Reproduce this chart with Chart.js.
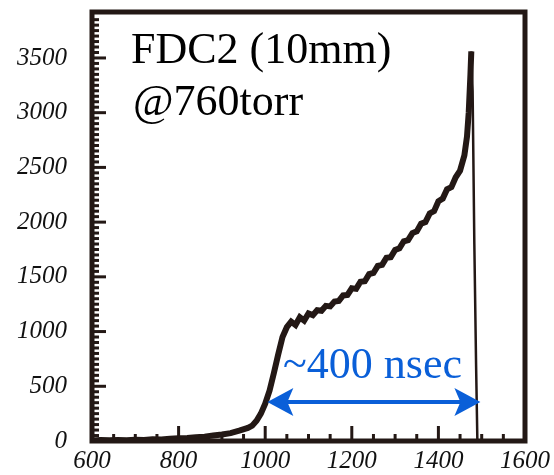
<!DOCTYPE html>
<html>
<head>
    <title>FDC2 signal</title>
    <script src="https://cdn.jsdelivr.net/npm/chart.js"></script>
    <style>
        body { margin: 0; background: #fff; }
        #wrap { width: 554px; height: 475px; }
    </style>
</head>
<body>
    <div id="wrap">
        <canvas id="myChart" width="554" height="475"></canvas>
    </div>

    <script>
        // drift time (x) and counts (y)
        const timeNs = [600, 620, 640, 660, 680, 700, 720, 740, 760, 780,
            800, 820, 840, 860, 880, 900, 920, 940, 960, 970, 980, 990,
            1000, 1010, 1020, 1030, 1040, 1050, 1060, 1070, 1080, 1090,
            1100, 1110, 1120, 1130, 1140, 1150, 1160, 1170, 1180, 1190,
            1200, 1210, 1220, 1230, 1240, 1250, 1260, 1270, 1280, 1290,
            1300, 1310, 1320, 1330, 1340, 1350, 1360, 1370, 1380, 1390,
            1400, 1410, 1420, 1430, 1440, 1450, 1460, 1466, 1470, 1474,
            1476, 1479, 1483, 1487, 1490, 1500, 1550, 1600];
        const counts = [5, 8, 6, 10, 8, 12, 10, 15, 14, 20,
            25, 28, 35, 40, 50, 60, 72, 95, 120, 140, 185, 250,
            340, 460, 620, 790, 950, 1040, 1090, 1060, 1130, 1100,
            1165, 1150, 1195, 1190, 1235, 1230, 1275, 1280, 1330, 1335,
            1395, 1390, 1455, 1460, 1525, 1535, 1600, 1610, 1675, 1680,
            1745, 1760, 1825, 1835, 1900, 1915, 1985, 2000, 2080, 2100,
            2190, 2215, 2300, 2320, 2410, 2470, 2610, 2780, 3000, 3350,
            3560, 3200, 1800, 700, 0, 0, 0, 0];

        const xTicks = [600, 800, 1000, 1200, 1400, 1600];
        const yTicks = [0, 500, 1000, 1500, 2000, 2500, 3000, 3500];

        const titleLines = ['FDC2 (10mm)', '@760torr'];
        const spanLabel = '~400 nsec';
        const spanFrom = 1005, spanTo = 1497, spanAt = 356;

        const ink = '#231815';
        const blue = '#0a5fd8';
        const serif = '"Liberation Serif", "Times New Roman", serif';

        // frame, inward ticks, title and the blue arrow
        const decor = {
            id: 'decor',
            afterDatasetsDraw(chart) {
                const { ctx, chartArea: a, scales: { x, y } } = chart;
                ctx.save();
                ctx.strokeStyle = ink;
                ctx.lineWidth = 3;
                for (let v = 650; v < 1600; v += 50) {
                    const px = x.getPixelForValue(v);
                    const len = v % 200 === 0 ? 15 : 7;
                    ctx.beginPath();
                    ctx.moveTo(px, a.bottom);
                    ctx.lineTo(px, a.bottom - len);
                    ctx.stroke();
                }
                for (let v = 50; v < 3900; v += 50) {
                    const py = y.getPixelForValue(v);
                    const len = v % 500 === 0 ? 14 : 7;
                    ctx.beginPath();
                    ctx.moveTo(a.left, py);
                    ctx.lineTo(a.left + len, py);
                    ctx.stroke();
                }
                ctx.lineWidth = 5;
                ctx.strokeRect(a.left, a.top, a.right - a.left, a.bottom - a.top);

                ctx.fillStyle = '#000';
                ctx.font = '44px ' + serif;
                ctx.textBaseline = 'alphabetic';
                ctx.fillText(titleLines[0], 131, 63);
                ctx.fillText(titleLines[1], 133, 115);

                // span arrow
                const x0 = x.getPixelForValue(spanFrom);
                const x1 = x.getPixelForValue(spanTo);
                const yy = y.getPixelForValue(spanAt);
                ctx.strokeStyle = blue;
                ctx.fillStyle = blue;
                ctx.lineWidth = 4;
                ctx.beginPath();
                ctx.moveTo(x0 + 10, yy);
                ctx.lineTo(x1 - 10, yy);
                ctx.stroke();
                ctx.beginPath();
                ctx.moveTo(x0, yy);
                ctx.lineTo(x0 + 26, yy - 14);
                ctx.lineTo(x0 + 20, yy);
                ctx.lineTo(x0 + 26, yy + 14);
                ctx.closePath();
                ctx.fill();
                ctx.beginPath();
                ctx.moveTo(x1, yy);
                ctx.lineTo(x1 - 26, yy - 14);
                ctx.lineTo(x1 - 20, yy);
                ctx.lineTo(x1 - 26, yy + 14);
                ctx.closePath();
                ctx.fill();
                ctx.font = '44px ' + serif;
                ctx.fillText(spanLabel, x.getPixelForValue(1041), y.getPixelForValue(576));
                ctx.restore();
            }
        };

        document.addEventListener('DOMContentLoaded', function() {
            const ctx = document.getElementById('myChart').getContext('2d');
            window.myChart = new Chart(ctx, {
                type: 'line',
                data: {
                    labels: timeNs,
                    datasets: [{
                        data: timeNs.map((t, i) => ({ x: t, y: counts[i] })),
                        borderColor: ink,
                        borderWidth: 6,
                        borderJoinStyle: 'miter',
                        pointRadius: 0,
                        tension: 0,
                        fill: false,
                        segment: {
                            borderWidth: c => c.p0.parsed.x >= 1476 ? 2.5 : 6
                        }
                    }]
                },
                options: {
                    responsive: false,
                    animation: false,
                    events: [],
                    layout: { padding: { top: 12, right: 29, left: 0, bottom: 0 } },
                    plugins: {
                        legend: { display: false },
                        tooltip: { enabled: false }
                    },
                    scales: {
                        x: {
                            type: 'linear',
                            min: 600,
                            max: 1600,
                            afterFit: s => {
                                s.height = 34;
                                s.paddingLeft = 0;
                                s.paddingRight = 0;
                            },
                            afterBuildTicks: s => { s.ticks = xTicks.map(v => ({ value: v })); },
                            grid: { display: false, drawTicks: false },
                            border: { display: false },
                            ticks: {
                                padding: 5,
                                color: '#111',
                                callback: v => String(v),
                                font: { family: serif, size: 25, style: 'italic' }
                            }
                        },
                        y: {
                            min: 0,
                            max: 3920,
                            afterFit: s => {
                                s.width = 92;
                                s.paddingTop = 0;
                                s.paddingBottom = 0;
                            },
                            afterBuildTicks: s => { s.ticks = yTicks.map(v => ({ value: v })); },
                            grid: { display: false, drawTicks: false },
                            border: { display: false },
                            ticks: {
                                padding: 25,
                                color: '#111',
                                callback: v => String(v),
                                font: { family: serif, size: 25, style: 'italic' }
                            }
                        }
                    }
                },
                plugins: [decor]
            });
        });
    </script>
</body>
</html>
